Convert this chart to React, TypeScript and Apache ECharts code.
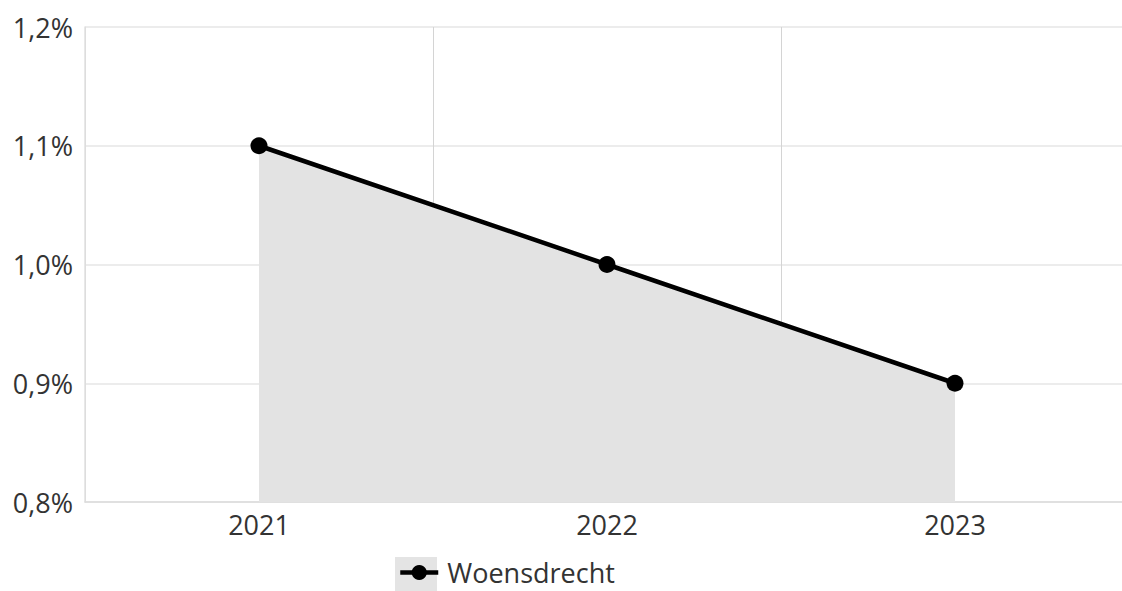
import React, { useEffect, useRef } from "react";
import * as echarts from "echarts";

const categories = ["2021", "2022", "2023"];
const values = [1.1, 1.0, 0.9];
const seriesName = "Woensdrecht";
const yMin = 0.8;
const yMax = 1.2;
const yInterval = 0.1;

export default function App() {
  const ref = useRef<HTMLDivElement>(null);
  useEffect(() => {
    if (!ref.current) return;
    const chart = echarts.init(ref.current, undefined, { renderer: "svg" });
    const font = "'Open Sans', 'Noto Sans', sans-serif";
    chart.setOption({
      animation: false,
      backgroundColor: "#ffffff",
      grid: { left: 85, top: 27, right: 0, bottom: 89, containLabel: false },
      graphic: [
        {
          type: "rect",
          left: 395,
          top: 557,
          shape: { width: 42, height: 34 },
          style: { fill: "#e4e4e4" },
          z: 0,
        },
      ],
      legend: {
        left: 398,
        top: 559,
        itemWidth: 38,
        itemHeight: 19,
        itemGap: 10,
        padding: 0,
        lineStyle: { width: 4.5 },
        textStyle: { fontFamily: font, fontSize: 27, color: "#333", padding: [0, 0, 0, 4] },
        data: [{ name: seriesName }],
        z: 5,
      },
      xAxis: {
        type: "category",
        data: categories,
        boundaryGap: true,
        axisLine: { show: true, lineStyle: { color: "#dcdcdc", width: 1.5 } },
        axisTick: { show: false },
        axisLabel: { fontFamily: font, fontSize: 27, color: "#333", margin: 9 },
        splitLine: { show: true, lineStyle: { color: "#d4d4d4", width: 1 } },
      },
      yAxis: {
        type: "value",
        min: yMin,
        max: yMax,
        interval: yInterval,
        axisLine: { show: true, lineStyle: { color: "#e0e0e0", width: 1.5 } },
        axisTick: { show: false },
        axisLabel: {
          fontFamily: font,
          fontSize: 27,
          color: "#333",
          margin: 12,
          formatter: (v: number) => v.toFixed(1).replace(".", ",") + "%",
        },
        splitLine: { show: true, lineStyle: { color: "#e6e6e6", width: 1.5 } },
      },
      series: [
        {
          name: seriesName,
          type: "line",
          data: values,
          symbol: "circle",
          symbolSize: 17,
          itemStyle: { color: "#000000" },
          lineStyle: { color: "#000000", width: 4.5 },
          areaStyle: { color: "#e3e3e3", opacity: 1, origin: "start" },
        },
      ],
    });
    return () => chart.dispose();
  }, []);
  return (
    <div
      ref={ref}
      style={{ position: "fixed", left: 0, top: 0, width: 1129, height: 591 }}
    />
  );
}
